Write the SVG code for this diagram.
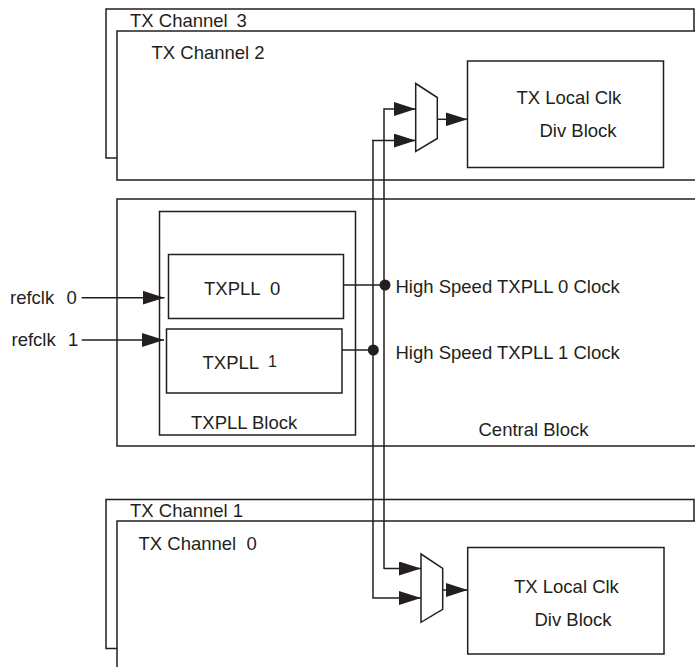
<svg xmlns="http://www.w3.org/2000/svg" width="695" height="667" viewBox="0 0 695 667">
<style>
.box{fill:#fff;stroke:#231f20;stroke-width:1.5}
.ln{fill:none;stroke:#231f20;stroke-width:1.5}
.t{font-family:"Liberation Sans",Arial,sans-serif;font-size:18.5px;fill:#231f20}
.dot{fill:#231f20}
</style>
<defs>
<marker id="ah" markerUnits="userSpaceOnUse" markerWidth="22" markerHeight="14" refX="22" refY="7" orient="auto">
<path d="M0,0 L22,7 L0,14 z" fill="#231f20"/>
</marker>
</defs>
<rect width="695" height="667" fill="#fff"/>
<g id="tx-channel-3">
<rect class="box" x="106" y="9" width="588" height="149"/>
<text class="t" x="130" y="26.5">TX Channel<tspan x="236.5">3</tspan></text>
</g>
<g id="tx-channel-2">
<rect class="box" x="117" y="31" width="600" height="149"/>
<text class="t" x="151.5" y="58.5">TX Channel 2</text>
</g>
<g id="central-block">
<rect class="box" x="117" y="199" width="600" height="247"/>
<text class="t" x="478.5" y="435.5">Central Block</text>
</g>
<g id="txpll-block">
<rect class="box" x="159.5" y="211.5" width="196" height="223.5"/>
<text class="t" x="191" y="428.5">TXPLL Block</text>
</g>
<g id="txpll-0">
<rect class="box" x="168.5" y="254.5" width="175" height="64"/>
<text class="t" x="204" y="295">TXPLL<tspan x="270">0</tspan></text>
</g>
<g id="txpll-1">
<rect class="box" x="166.5" y="329" width="175.5" height="64"/>
<text class="t" x="202.5" y="369">TXPLL<tspan x="268" y="366.5" font-size="16">1</tspan></text>
</g>
<g id="tx-channel-1">
<rect class="box" x="106" y="499.5" width="588" height="149"/>
<text class="t" x="130" y="516.5">TX Channel 1</text>
</g>
<g id="tx-channel-0">
<rect class="box" x="117" y="521" width="600" height="200"/>
<text class="t" x="138.5" y="550">TX Channel<tspan x="246.5">0</tspan></text>
</g>
<g id="tx-local-clk-top">
<rect class="box" x="467.5" y="61" width="196" height="106.5"/>
<text class="t" x="516.5" y="104">TX Local Clk</text>
<text class="t" x="539.5" y="136.5">Div Block</text>
</g>
<g id="mux-top">
<path class="box" d="M415.7,83.5 L437.3,97.5 L437.3,138.5 L415.7,151.5 z"/>
</g>
<g id="tx-local-clk-bottom">
<rect class="box" x="467.7" y="547.5" width="196.3" height="106.5"/>
<text class="t" x="514" y="592.5">TX Local Clk</text>
<text class="t" x="534.5" y="625.5">Div Block</text>
</g>
<g id="mux-bottom">
<path class="box" d="M421,554 L442.7,568.3 L442.7,609.3 L421,622.3 z"/>
</g>
<g id="refclk-labels">
<text class="t" x="10" y="304">refclk<tspan x="66.5">0</tspan></text>
<text class="t" x="11.5" y="345.5">refclk<tspan x="68">1</tspan></text>
</g>
<g id="hs-labels">
<text class="t" x="395.5" y="293.3">High Speed TXPLL 0 Clock</text>
<text class="t" x="395.5" y="359.3">High Speed TXPLL 1 Clock</text>
</g>
<g id="connectors">
<path class="ln" d="M81.7,297.7 L164.5,297.7" marker-end="url(#ah)"/>
<path class="ln" d="M81.7,340 L164,340" marker-end="url(#ah)"/>
<path class="ln" d="M343.5,285 L384,285"/>
<path class="ln" d="M342,350 L373,350"/>
<path class="ln" d="M384,569 L384,109 L415.7,109" marker-end="url(#ah)"/>
<path class="ln" d="M372,140.5 L415.7,140.5" marker-end="url(#ah)"/>
<path class="ln" d="M373,140.5 L373,598 L421,598" marker-end="url(#ah)"/>
<path class="ln" d="M384,568.5 L421,568.5" marker-end="url(#ah)"/>
<path class="ln" d="M437.3,119.3 L467.5,119.3" marker-end="url(#ah)"/>
<path class="ln" d="M442.7,590 L467.7,590" marker-end="url(#ah)"/>
<circle class="dot" cx="385" cy="285" r="5.5"/>
<circle class="dot" cx="373.3" cy="350" r="5.5"/>
</g>
</svg>
